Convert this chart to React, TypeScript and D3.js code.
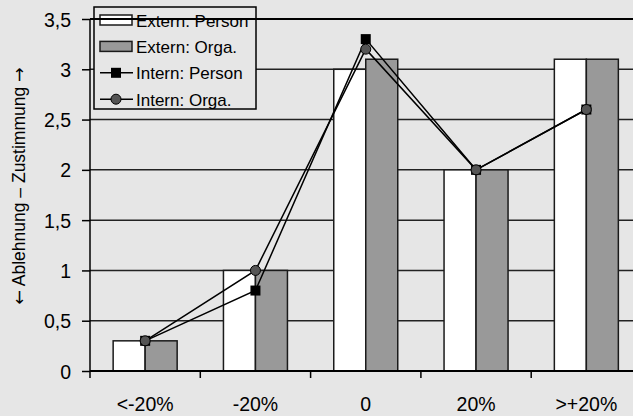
import React, { useRef, useEffect } from 'react';
import * as d3 from 'd3';

const categories = ['<-20%', '-20%', '0', '20%', '>+20%'];
const externPerson = [0.3, 1.0, 3.0, 2.0, 3.1];
const externOrga = [0.3, 1.0, 3.1, 2.0, 3.1];
const internPerson = [0.3, 0.8, 3.3, 2.0, 2.6];
const internOrga = [0.3, 1.0, 3.2, 2.0, 2.6];
const yTicks = [0, 0.5, 1, 1.5, 2, 2.5, 3, 3.5];
const yLabelParts = ['\u2190', ' Ablehnung \u2013 Zustimmung ', '\u2192'];

const W = 633;
const H = 416;

const App: React.FC = () => {
  const ref = useRef<SVGSVGElement | null>(null);

  useEffect(() => {
    if (!ref.current) return;
    const svg = d3.select(ref.current);
    svg.selectAll('*').remove();

    const left = 90;
    const bandW = 110.3;
    const top = 19;
    const bottom = 371;
    const font = 'Liberation Sans, Arial, sans-serif';
    const sq = 10;
    const rad = 5;

    svg.append('rect').attr('width', W).attr('height', H).attr('fill', '#e6e6e6');

    const x = d3
      .scaleBand()
      .domain(categories)
      .range([left, left + bandW * categories.length]);
    const y = d3.scaleLinear().domain([0, 3.5]).range([bottom, top]);

    // grid lines
    svg
      .append('g')
      .selectAll('line')
      .data(yTicks.filter(t => t > 0 && t < 3.5))
      .join('line')
      .attr('x1', left)
      .attr('x2', W)
      .attr('y1', d => y(d))
      .attr('y2', d => y(d))
      .attr('stroke', '#222')
      .attr('stroke-width', 1.5);

    // bars
    const barW = 32;
    const series = [
      { vals: externPerson, fill: '#ffffff', off: -barW },
      { vals: externOrga, fill: '#999999', off: 0 }
    ];
    series.forEach(s => {
      svg
        .append('g')
        .selectAll('rect')
        .data(s.vals)
        .join('rect')
        .attr('x', (d, i) => (x(categories[i]) as number) + bandW / 2 + s.off)
        .attr('y', d => y(d))
        .attr('width', barW)
        .attr('height', d => bottom - y(d))
        .attr('fill', s.fill)
        .attr('stroke', '#1a1a1a')
        .attr('stroke-width', 1.5);
    });

    // axes
    const yAxis = svg
      .append('g')
      .attr('transform', `translate(${left},0)`)
      .call(d3.axisLeft(y).tickValues(yTicks).tickSize(8).tickFormat(d => d3.format('')(d as number).replace('.', ',')));
    yAxis.select('.domain').attr('stroke', '#000').attr('stroke-width', 1.5).attr('d', `M0,${top}V${bottom}`);
    yAxis.selectAll('.tick line').attr('stroke', '#000').attr('stroke-width', 1.5);
    yAxis
      .selectAll('.tick text')
      .attr('x', -19)
      .attr('dy', '0.36em')
      .attr('font-family', font)
      .attr('font-size', 19.5)
      .attr('fill', '#000');

    const xAxis = svg.append('g').attr('transform', `translate(0,${bottom})`);
    xAxis
      .append('line')
      .attr('x1', left)
      .attr('x2', W)
      .attr('stroke', '#000')
      .attr('stroke-width', 2);
    xAxis
      .selectAll('line.tk')
      .data(categories)
      .join('line')
      .attr('class', 'tk')
      .attr('x1', d => x(d) as number)
      .attr('x2', d => x(d) as number)
      .attr('y1', 0)
      .attr('y2', 7)
      .attr('stroke', '#000')
      .attr('stroke-width', 1.5);
    xAxis
      .selectAll('text')
      .data(categories)
      .join('text')
      .attr('x', d => (x(d) as number) + bandW / 2)
      .attr('y', 39.5)
      .attr('text-anchor', 'middle')
      .attr('font-family', font)
      .attr('font-size', 19.5)
      .text(d => d);

    // lines
    const cx = (i: number) => (x(categories[i]) as number) + bandW / 2;
    const line = d3
      .line<number>()
      .x((d, i) => cx(i))
      .y(d => y(d));

    [internPerson, internOrga].forEach(vals => {
      svg
        .append('path')
        .datum(vals)
        .attr('fill', 'none')
        .attr('stroke', '#000')
        .attr('stroke-width', 1.5)
        .attr('d', line);
    });

    svg
      .append('g')
      .selectAll('rect')
      .data(internPerson)
      .join('rect')
      .attr('x', (d, i) => cx(i) - sq / 2)
      .attr('y', d => y(d) - sq / 2)
      .attr('width', sq)
      .attr('height', sq)
      .attr('fill', '#000');
    svg
      .append('g')
      .selectAll('circle')
      .data(internOrga)
      .join('circle')
      .attr('cx', (d, i) => cx(i))
      .attr('cy', d => y(d))
      .attr('r', rad)
      .attr('fill', '#555')
      .attr('stroke', '#000')
      .attr('stroke-width', 1);

    // legend
    const lg = svg.append('g');
    lg.append('rect')
      .attr('x', 94)
      .attr('y', 7)
      .attr('width', 162)
      .attr('height', 102)
      .attr('fill', '#e6e6e6')
      .attr('stroke', '#000')
      .attr('stroke-width', 1.5);
    const items = [
      { label: 'Extern: Person', kind: 'bar', fill: '#ffffff' },
      { label: 'Extern: Orga.', kind: 'bar', fill: '#999999' },
      { label: 'Intern: Person', kind: 'square', fill: '#000' },
      { label: 'Intern: Orga.', kind: 'circle', fill: '#555' }
    ];
    items.forEach((it, i) => {
      const cy = 20 + i * 26.4;
      if (it.kind === 'bar') {
        lg.append('rect')
          .attr('x', 100)
          .attr('y', cy - 5)
          .attr('width', 32)
          .attr('height', 10)
          .attr('fill', it.fill)
          .attr('stroke', '#1a1a1a')
          .attr('stroke-width', 1.5);
      } else {
        lg.append('line')
          .attr('x1', 100)
          .attr('x2', 133)
          .attr('y1', cy)
          .attr('y2', cy)
          .attr('stroke', '#000')
          .attr('stroke-width', 1.5);
        if (it.kind === 'square') {
          lg.append('rect').attr('x', 116 - sq / 2).attr('y', cy - sq / 2).attr('width', sq).attr('height', sq).attr('fill', '#000');
        } else {
          lg.append('circle').attr('cx', 116).attr('cy', cy).attr('r', rad).attr('fill', '#555').attr('stroke', '#000');
        }
      }
      lg.append('text')
        .attr('x', 136)
        .attr('y', cy + 6.5)
        .attr('font-family', font)
        .attr('font-size', 17)
        .text(it.label);
    });

    // top line drawn over legend
    svg
      .append('line')
      .attr('x1', left)
      .attr('x2', W)
      .attr('y1', y(3.5))
      .attr('y2', y(3.5))
      .attr('stroke', '#000')
      .attr('stroke-width', 2);

    // y label
    const yl = svg
      .append('text')
      .attr('transform', `translate(25,186) rotate(-90)`)
      .attr('text-anchor', 'middle')
      .attr('font-family', font)
      .attr('font-size', 17.5);
    yLabelParts.forEach((p, i) => {
      yl.append('tspan')
        .attr('font-family', i === 1 ? font : 'DejaVu Sans, sans-serif')
        .attr('xml:space', 'preserve')
        .text(p);
    });
  }, []);

  return <svg ref={ref} width={W} height={H} style={{ position: 'absolute', left: 0, top: 0 }} />;
};

export default App;
